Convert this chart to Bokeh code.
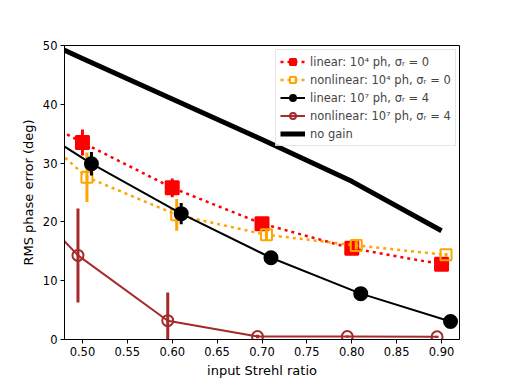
from bokeh.plotting import figure
from bokeh.models import Range1d, FixedTicker, Legend, LegendItem, ColumnDataSource, NumeralTickFormatter
from bokeh.embed import file_html
from bokeh.resources import INLINE

# ---- data ----
strehl = [0.4, 0.5, 0.6, 0.7, 0.8, 0.9]
lin4 = [41.5, 33.5, 25.8, 19.7, 15.5, 12.8]
lin4_err = [0.0, 2.2, 1.6, 0.4, 0.5, 0.3]
nonlin4 = [41.2, 27.6, 21.2, 17.8, 16.0, 14.4]
nonlin4_err = [0.0, 4.2, 2.7, 1.0, 0.7, 0.3]
lin7 = [39.6, 29.9, 21.4, 13.9, 7.8, 3.05]
lin7_err = [0.0, 2.0, 1.8, 0.5, 0.3, 0.2]
nonlin7 = [30.3, 14.3, 3.2, 0.5, 0.5, 0.45]
nonlin7_err = [0.0, 8.0, 4.8, 0.3, 0.2, 0.2]
nogain = [54.7, 47.8, 40.9, 34.0, 26.9, 18.5]
offsets = {"lin4": 0.0, "nonlin4": 0.005, "lin7": 0.01, "nonlin7": -0.005}
x_ticks = [0.50, 0.55, 0.60, 0.65, 0.70, 0.75, 0.80, 0.85, 0.90]
y_ticks = [0, 10, 20, 30, 40, 50]
labels = ["linear: 10\u2074 ph, \u03c3\u1d63 = 0",
          "nonlinear: 10\u2074 ph, \u03c3\u1d63 = 0",
          "linear: 10\u2077 ph, \u03c3\u1d63 = 4",
          "nonlinear: 10\u2077 ph, \u03c3\u1d63 = 4",
          "no gain"]

FONT = "DejaVu Sans"

p = figure(width=508, height=380, output_backend="svg", toolbar_location=None,
           x_range=Range1d(0.48, 0.92), y_range=Range1d(0, 50))
p.min_border_left = 64
p.min_border_right = 49
p.min_border_top = 45
p.min_border_bottom = 41
p.xgrid.visible = False
p.ygrid.visible = False
p.outline_line_color = "black"
p.outline_line_alpha = 1
p.background_fill_color = "white"
p.border_fill_color = "white"

for ax in (p.xaxis[0], p.yaxis[0]):
    ax.major_label_text_font = FONT
    ax.major_label_text_font_size = "11.5px"
    ax.major_label_text_color = "black"
    ax.axis_label_text_font = FONT
    ax.axis_label_text_font_size = "13px"
    ax.axis_label_text_font_style = "normal"
    ax.axis_label_text_color = "black"
    ax.major_tick_out = 4
    ax.major_tick_in = 0
    ax.minor_tick_out = 0
    ax.minor_tick_in = 0
    ax.axis_line_color = "black"
    ax.major_tick_line_color = "black"
    ax.major_label_standoff = 3
    ax.axis_label_standoff = 4

p.xaxis.ticker = FixedTicker(ticks=x_ticks)
p.xaxis.formatter = NumeralTickFormatter(format="0.00")
p.yaxis.ticker = FixedTicker(ticks=y_ticks)
p.xaxis.axis_label = "input Strehl ratio"
p.yaxis.axis_label = "RMS phase error (deg)"


def series(vals, errs, off, color, marker, size, fill, dash, lw):
    xs = [s + off for s in strehl]
    src = ColumnDataSource(dict(x=xs, y=vals,
                                lo=[v - e for v, e in zip(vals, errs)],
                                hi=[v + e for v, e in zip(vals, errs)]))
    ln = p.line("x", "y", source=src, line_color=color, line_width=lw, line_dash=dash)
    p.segment(x0="x", y0="lo", x1="x", y1="hi", source=src, line_color=color, line_width=3)
    sc = p.scatter("x", "y", source=src, marker=marker, size=size,
                   fill_color=fill, line_color=color, line_width=2)
    return [ln, sc]


r1 = series(lin4, lin4_err, offsets["lin4"], "red", "square", 13, "red", "3 4", 2.5)
r2 = series(nonlin4, nonlin4_err, offsets["nonlin4"], "orange", "square", 11, None, "3 4", 2.5)
r3 = series(lin7, lin7_err, offsets["lin7"], "black", "circle", 13, "black", "solid", 2)
r4 = series(nonlin7, nonlin7_err, offsets["nonlin7"], "brown", "circle", 11, None, "solid", 2)
r5 = p.line(strehl, nogain, line_color="black", line_width=5)

legend = Legend(items=[LegendItem(label=labels[0], renderers=r1),
                       LegendItem(label=labels[1], renderers=r2),
                       LegendItem(label=labels[2], renderers=r3),
                       LegendItem(label=labels[3], renderers=r4),
                       LegendItem(label=labels[4], renderers=[r5])],
                location=(211, 193))
legend.label_text_font = FONT
legend.label_text_font_size = "11.5px"
legend.label_height = 15
legend.glyph_height = 15
legend.glyph_width = 25
legend.spacing = 3
legend.padding = 4
legend.margin = 0
legend.label_standoff = 5
legend.border_line_color = "#cccccc"
legend.border_line_width = 1
legend.background_fill_alpha = 0.8
p.add_layout(legend)

open("out.html", "w").write(file_html(p, INLINE))
